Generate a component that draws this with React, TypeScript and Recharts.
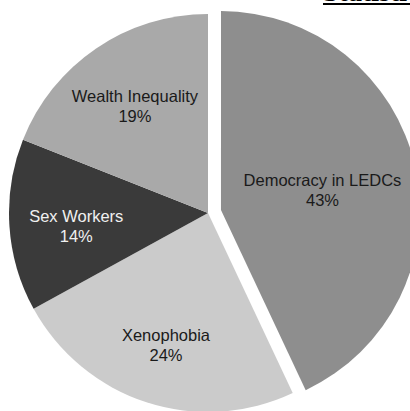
import React from "react";
import { PieChart, Pie, Cell } from "recharts";

const categories = ["Democracy in LEDCs", "Xenophobia", "Sex Workers", "Wealth Inequality"];
const values = [43, 24, 14, 19];
const percentLabels = ["43%", "24%", "14%", "19%"];

const colors = ["#8e8e8e", "#cbcbcb", "#3a3a3a", "#a9a9a9"];
const textColors = ["#1a1a1a", "#1a1a1a", "#f0f0f0", "#1a1a1a"];
const labelRadius = [104, 136, 132, 130];
const labelShiftY = [3, 3, 5, 1];
const explodedIndex = 0;
const explodeOffset = 13.3;

const data = categories.map((name, i) => ({ name, value: values[i], pct: percentLabels[i] }));

const CX = 208;
const CY = 213;
const R = 199;

const total = values.reduce((a, b) => a + b, 0);
const before = values.slice(0, explodedIndex).reduce((a, b) => a + b, 0);
const midDeg = 90 - ((before + values[explodedIndex] / 2) / total) * 360;
const RAD = Math.PI / 180;
const exDx = explodeOffset * Math.cos(midDeg * RAD);
const exDy = -explodeOffset * Math.sin(midDeg * RAD);

const renderLabel = (props: any) => {
  const { cx, cy, midAngle, index } = props;
  const r = labelRadius[index];
  const x = cx + r * Math.cos(-midAngle * RAD);
  const y = cy + r * Math.sin(-midAngle * RAD) + labelShiftY[index];
  const d = data[index];
  return (
    <g key={"lbl" + index}>
      <text
        x={x}
        y={y - 10}
        textAnchor="middle"
        dominantBaseline="central"
        fontFamily="'Liberation Sans', Arial, sans-serif"
        fontSize={16.5}
        fill={textColors[index]}
      >
        {d.name}
      </text>
      <text
        x={x}
        y={y + 10}
        textAnchor="middle"
        dominantBaseline="central"
        fontFamily="'Liberation Sans', Arial, sans-serif"
        fontSize={16.5}
        fill={textColors[index]}
      >
        {d.pct}
      </text>
    </g>
  );
};

const renderMainLabel = (props: any) => (props.index === explodedIndex ? <g key="x" /> : renderLabel(props));
const renderExLabel = (props: any) => (props.index === explodedIndex ? renderLabel(props) : <g key={"e" + props.index} />);

export default function App() {
  return (
    <div style={{ position: "absolute", left: 0, top: 0, width: 410, height: 411, background: "#ffffff", overflow: "hidden" }}>
      <div
        style={{
          position: "absolute",
          left: 323,
          top: -22,
          fontFamily: "'Liberation Serif', 'Times New Roman', serif",
          fontWeight: "bold",
          fontSize: 28,
          lineHeight: "28px",
          textDecoration: "underline",
          whiteSpace: "nowrap",
          color: "#000",
        }}
      >
        Statistics
      </div>
      <PieChart width={410} height={411} margin={{ top: 0, right: 0, bottom: 0, left: 0 }} style={{ position: "absolute", left: 0, top: 0 }}>
        <Pie
          data={data}
          dataKey="value"
          nameKey="name"
          cx={CX}
          cy={CY}
          outerRadius={R}
          startAngle={90}
          endAngle={-270}
          stroke="none"
          labelLine={false}
          label={renderMainLabel}
          isAnimationActive={false}
        >
          {data.map((d, i) => (
            <Cell key={d.name} fill={i === explodedIndex ? "transparent" : colors[i]} />
          ))}
        </Pie>
        <Pie
          data={data}
          dataKey="value"
          nameKey="name"
          cx={CX + exDx}
          cy={CY + exDy}
          outerRadius={R}
          startAngle={90}
          endAngle={-270}
          stroke="none"
          labelLine={false}
          label={renderExLabel}
          isAnimationActive={false}
        >
          {data.map((d, i) => (
            <Cell key={d.name} fill={i === explodedIndex ? colors[i] : "transparent"} />
          ))}
        </Pie>
      </PieChart>
    </div>
  );
}
